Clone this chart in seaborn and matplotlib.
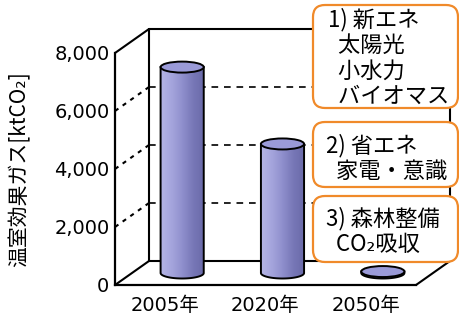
import numpy as np
import pandas as pd
import seaborn as sns
import matplotlib.pyplot as plt
from matplotlib.patches import Ellipse, FancyBboxPatch, PathPatch
from matplotlib.path import Path
from matplotlib.colors import LinearSegmentedColormap
from matplotlib.transforms import IdentityTransform

# ---- data ----
years = ["2005年", "2020年", "2050年"]
emissions = [7100, 4450, 50]
y_ticks = [0, 2000, 4000, 6000, 8000]
y_ticklabels = ["0", "2,000", "4,000", "6,000", "8,000"]
y_label = "温室効果ガス[ktCO₂]"
box_texts = ["1) 新エネ\n  太陽光\n  小水力\n  バイオマス",
             "2) 省エネ\n  家電・意識",
             "3) 森林整備\n  CO₂吸収"]

sns.set_theme(style="white")
plt.rcParams['font.family'] = ['DejaVu Sans', 'Noto Sans CJK JP']
CJK = ['Noto Sans CJK JP', 'DejaVu Sans']

FW, FH, DPI = 459, 318, 100
fig = plt.figure(figsize=(FW / DPI, FH / DPI), dpi=DPI)
L, R, B, T = 115, 416, 285, 53
ax = fig.add_axes([L / FW, (FH - B) / FH, (R - L) / FW, (B - T) / FH])

df = pd.DataFrame({"year": years, "value": emissions})
sns.barplot(data=df, x="year", y="value", width=0.43, ax=ax, color="#9090cc",
            saturation=1, edgecolor="none", zorder=3)
ax.set_xlim(-0.5, 2.5)
ax.set_ylim(0, 8000)

# depth offset (oblique projection) in data units
px_x = 3 / (R - L)
px_y = 8000 / (B - T)
DX, DY = 34 * px_x, 24 * px_y
EH = 11 * px_y  # ellipse height

cmap = LinearSegmentedColormap.from_list(
    "cyl", ["#b4b4e4", "#a4a4dc", "#8e8ecc", "#7676b6", "#6a6aa8"])
grad = np.linspace(0, 1, 256)[None, :]

for p in list(ax.patches):
    p.set_x(p.get_x() + DX / 2)
    p.set_y(p.get_y() + DY / 2)
    p.set_facecolor("none")
    x0, y0, w, h = p.get_x(), p.get_y(), p.get_width(), p.get_height()
    xc = x0 + w / 2
    th = np.linspace(np.pi, 2 * np.pi, 60)
    verts = [(x0, y0 + h)] + list(zip(xc + w / 2 * np.cos(th), y0 + EH / 2 * np.sin(th))) \
        + [(x0 + w, y0 + h), (x0, y0 + h)]
    codes = [Path.MOVETO] + [Path.LINETO] * (len(verts) - 2) + [Path.CLOSEPOLY]
    body = PathPatch(Path(verts, codes), facecolor="none", edgecolor="black",
                     lw=1.4, zorder=4)
    ax.add_patch(body)
    im = ax.imshow(grad, cmap=cmap, extent=[x0, x0 + w, y0 - EH, y0 + h],
                   aspect="auto", origin="lower", zorder=3)
    im.set_clip_path(body)
    ax.add_patch(Ellipse((xc, y0 + h), w, EH, facecolor="#9a9ad8",
                         edgecolor="black", lw=1.4, zorder=5))

ax.set_xlim(-0.5, 2.5)
ax.set_ylim(0, 8000)

# ---- 3D frame ----
kw = dict(color="black", lw=1.5, clip_on=False, zorder=1)
x_l, x_r = -0.5, 2.5
ax.plot([x_l + DX, x_r + DX], [8000 + DY, 8000 + DY], **kw)
ax.plot([x_l + DX, x_r + DX], [DY, DY], **kw)
ax.plot([x_l + DX, x_l + DX], [DY, 8000 + DY], **kw)
ax.plot([x_r + DX, x_r + DX], [DY, 8000 + DY], **kw)
for yv in (0, 8000):
    ax.plot([x_l, x_l + DX], [yv, yv + DY], **kw)
ax.plot([x_r, x_r + DX], [0, DY], **kw)
for yv in y_ticks[1:-1]:
    ax.plot([x_l, x_l + DX], [yv, yv + DY], color="black", lw=1.5,
            ls=(0, (2, 2.5)), clip_on=False, zorder=1)
    ax.plot([x_l + DX, x_r + DX], [yv + DY, yv + DY], color="black", lw=1.2,
            ls=(0, (4, 3.5)), clip_on=False, zorder=1)

# ---- axes styling ----
for s in ("top", "right"):
    ax.spines[s].set_visible(False)
for s in ("left", "bottom"):
    ax.spines[s].set_color("black")
    ax.spines[s].set_linewidth(1.6)
ax.set_yticks(y_ticks, y_ticklabels)
ax.tick_params(axis="y", length=0, pad=4, labelsize=14, colors="black")
ax.tick_params(axis="x", which="major", length=0, pad=8, labelsize=14, colors="black")
ax.set_xticks([0.5, 1.5], minor=True)
ax.tick_params(axis="x", which="minor", direction="in", length=6, width=1.5, color="black")
ax.set_xlabel("")
ax.set_ylabel(y_label, fontsize=15, family=CJK, color="black")
ax.yaxis.set_label_coords(-0.28, 0.5)

# ---- annotation boxes (pixel coordinates) ----
boxes = [(313, 5, 108), (313, 122, 187), (313, 196, 262)]
text_pos = [(328, 8), (326, 134), (326, 207)]
for (bx, top, bot), txt, (tx, ty) in zip(boxes, box_texts, text_pos):
    fp = FancyBboxPatch((bx, FH - bot), 145, bot - top,
                        boxstyle="round,pad=0,rounding_size=12",
                        transform=IdentityTransform(), facecolor="white",
                        edgecolor="#f08a2a", lw=1.6, zorder=10)
    fig.patches.append(fp)
    fig.text(tx, FH - ty, txt, transform=IdentityTransform(), ha="left",
             va="top", fontsize=16, family=CJK, linespacing=1.14,
             color="black", zorder=11)

fig.savefig("out.png", dpi=DPI)
